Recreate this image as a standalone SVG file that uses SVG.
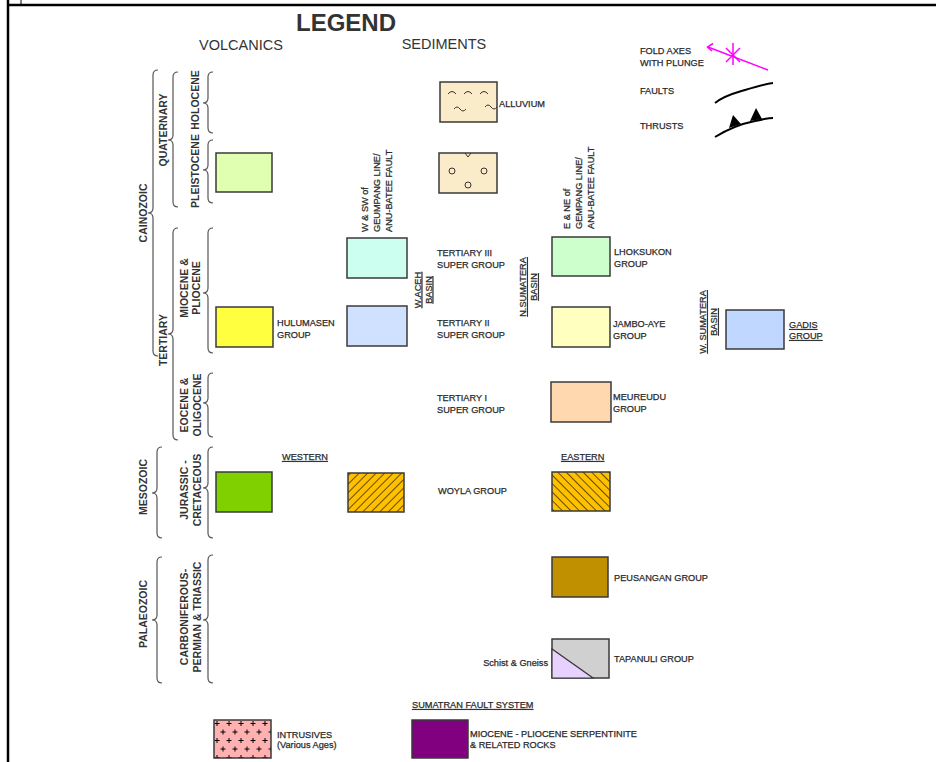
<svg xmlns="http://www.w3.org/2000/svg" width="936" height="762" viewBox="0 0 936 762">
<style>
.bx{stroke:#3a3a3a;stroke-width:1.5}
.lb{font-family:"Liberation Sans",Arial,sans-serif;font-size:9.2px;fill:#2a2a2a;stroke:#2a2a2a;stroke-width:0.25}
.u{text-decoration:underline}
.geo{font-family:"Liberation Sans",Arial,sans-serif;font-size:10.5px;font-weight:bold;fill:#333;text-anchor:middle}
.hd{font-family:"Liberation Sans",Arial,sans-serif;fill:#333}
.br{fill:none;stroke:#555;stroke-width:1.2}
.sym{fill:none;stroke:#000;stroke-width:2}
</style>
<defs>
<pattern id="hatchW" patternUnits="userSpaceOnUse" width="6" height="6" patternTransform="rotate(45)">
<rect width="6" height="6" fill="#ffc000"/><line x1="0" y1="0" x2="0" y2="6" stroke="#000" stroke-width="1.2"/>
</pattern>
<pattern id="hatchE" patternUnits="userSpaceOnUse" width="6" height="6" patternTransform="rotate(-45)">
<rect width="6" height="6" fill="#ffc000"/><line x1="0" y1="0" x2="0" y2="6" stroke="#000" stroke-width="1.2"/>
</pattern>
<pattern id="plus" patternUnits="userSpaceOnUse" x="214" y="720" width="12" height="17">
<rect width="12" height="17" fill="#ffb0b0"/>
<path d="M3,1 v5 M0.5,3.5 h5 M9,9.5 v5 M6.5,12 h5" stroke="#000" stroke-width="1"/>
</pattern>
</defs>

<g id="frame" stroke="#000">
<line x1="8" y1="0" x2="8" y2="762" stroke-width="2.5"/>
<line x1="7" y1="5" x2="936" y2="5" stroke-width="2.5"/>
<line x1="21" y1="0" x2="21" y2="5" stroke-width="1"/>
</g>

<g id="headings">
<text class="hd" x="346" y="31" font-size="24" font-weight="bold" text-anchor="middle">LEGEND</text>
<text class="hd" x="241" y="50" font-size="14.5" text-anchor="middle">VOLCANICS</text>
<text class="hd" x="444" y="49" font-size="14.5" text-anchor="middle">SEDIMENTS</text>
</g>

<g id="brackets" class="br">
<path d="M158,70 Q153,70 153,75 L153,208 Q153,213 148,213 Q153,213 153,218 L153,351 Q153,356 158,356"/>
<path d="M178,72 Q173,72 173,77 L173,135 Q173,140 168,140 Q173,140 173,145 L173,202 Q173,207 178,207"/>
<path d="M178,228 Q173,228 173,233 L173,329 Q173,334 168,334 Q173,334 173,339 L173,435 Q173,440 178,440"/>
<path d="M213,72 Q208,72 208,77 L208,98 Q208,103 203,103 Q208,103 208,108 L208,128 Q208,133 213,133"/>
<path d="M213,140 Q208,140 208,145 L208,165 Q208,170 203,170 Q208,170 208,175 L208,198 Q208,203 213,203"/>
<path d="M213,228 Q208,228 208,233 L208,288 Q208,293 203,293 Q208,293 208,298 L208,348 Q208,353 213,353"/>
<path d="M213,373 Q208,373 208,378 L208,398 Q208,403 203,403 Q208,403 208,408 L208,432 Q208,437 213,437"/>
<path d="M213,447 Q208,447 208,452 L208,483 Q208,488 203,488 Q208,488 208,493 L208,533 Q208,538 213,538"/>
<path d="M162,447 Q157,447 157,452 L157,488 Q157,493 152,493 Q157,493 157,498 L157,533 Q157,538 162,538"/>
<path d="M162,557 Q157,557 157,562 L157,615 Q157,620 152,620 Q157,620 157,625 L157,678 Q157,683 162,683"/>
<path d="M213,555 Q208,555 208,560 L208,615 Q208,620 203,620 Q208,620 208,625 L208,678 Q208,683 213,683"/>
</g>

<g id="time-labels">
<text class="geo" transform="translate(147,213) rotate(-90)">CAINOZOIC</text>
<text class="geo" transform="translate(167,130) rotate(-90)">QUATERNARY</text>
<text class="geo" transform="translate(167,340) rotate(-90)">TERTIARY</text>
<text class="geo" transform="translate(199,100) rotate(-90)">HOLOCENE</text>
<text class="geo" transform="translate(199,171) rotate(-90)">PLEISTOCENE</text>
<text class="geo" transform="translate(188,288) rotate(-90)"><tspan x="0" y="0">MIOCENE &amp;</tspan><tspan x="0" y="12">PLIOCENE</tspan></text>
<text class="geo" transform="translate(188,405) rotate(-90)"><tspan x="0" y="0">EOCENE &amp;</tspan><tspan x="0" y="13">OLIGOCENE</tspan></text>
<text class="geo" transform="translate(188,490) rotate(-90)"><tspan x="0" y="0">JURASSIC -</tspan><tspan x="0" y="13">CRETACEOUS</tspan></text>
<text class="geo" transform="translate(147,487) rotate(-90)">MESOZOIC</text>
<text class="geo" transform="translate(147,614) rotate(-90)">PALAEOZOIC</text>
<text class="geo" transform="translate(188,617) rotate(-90)"><tspan x="0" y="0">CARBONIFEROUS-</tspan><tspan x="0" y="13">PERMIAN &amp; TRIASSIC</tspan></text>
</g>

<g id="region-labels" class="lb">
<text transform="translate(367.5,232) rotate(-90)"><tspan x="0" y="0">W &amp; SW of</tspan><tspan x="0" y="12">GEUMPANG LINE/</tspan><tspan x="0" y="24">ANU-BATEE FAULT</tspan></text>
<text transform="translate(570,229) rotate(-90)"><tspan x="0" y="0">E &amp; NE of</tspan><tspan x="0" y="12">GEMPANG LINE/</tspan><tspan x="0" y="24">ANU-BATEE FAULT</tspan></text>
<text class="u" text-anchor="middle" transform="translate(420.5,290) rotate(-90)"><tspan x="0" y="0">W.ACEH</tspan><tspan x="0" y="11">BASIN</tspan></text>
<text class="u" text-anchor="middle" transform="translate(526,287) rotate(-90)"><tspan x="0" y="0">N.SUMATERA</tspan><tspan x="0" y="11">BASIN</tspan></text>
<text class="u" text-anchor="middle" transform="translate(706,322) rotate(-90)"><tspan x="0" y="0">W. SUMATERA</tspan><tspan x="0" y="11">BASIN</tspan></text>
<text class="u" x="282" y="460">WESTERN</text>
<text class="u" x="561" y="460">EASTERN</text>
<text class="u" x="412" y="708">SUMATRAN FAULT SYSTEM</text>
</g>

<g id="alluvium">
<rect class="bx" x="440" y="82" width="57" height="40" fill="#fbecc9"/>
<path d="M448,94 q4,-5 8,0 M464,94 q4,-5 8,0 M480,94 q4,-5 8,0 M454,109 q3,-4 6,0 t6,0 M485,107 q3,-4 6,0 t6,0" fill="none" stroke="#333" stroke-width="1"/>
<text class="lb" x="499" y="107">ALLUVIUM</text>
</g>
<g id="gravel">
<rect class="bx" x="439" y="153" width="58" height="40" fill="#fbecc9"/>
<path d="M465,153 l3,4 l3,-4" fill="none" stroke="#333" stroke-width="1"/>
<g fill="none" stroke="#333" stroke-width="1"><circle cx="452" cy="171" r="3"/><circle cx="484" cy="171" r="3"/><circle cx="468" cy="185" r="3"/></g>
</g>
<g id="pleistocene-volcanics"><rect class="bx" x="216" y="153" width="56" height="39" fill="#e0ffb0"/></g>
<g id="tertiary3-west"><rect class="bx" x="347" y="238" width="60" height="40" fill="#ccfff0"/>
<text class="lb"><tspan x="437" y="256">TERTIARY III</tspan><tspan x="437" y="268">SUPER GROUP</tspan></text></g>
<g id="tertiary2-west"><rect class="bx" x="347" y="306" width="60" height="40" fill="#d0e0ff"/>
<text class="lb"><tspan x="437" y="326">TERTIARY II</tspan><tspan x="437" y="338">SUPER GROUP</tspan></text></g>
<g id="tertiary1"><text class="lb"><tspan x="437" y="401">TERTIARY I</tspan><tspan x="437" y="413">SUPER GROUP</tspan></text></g>
<g id="hulumasen"><rect class="bx" x="216" y="307" width="57" height="40" fill="#ffff40"/>
<text class="lb"><tspan x="277" y="326">HULUMASEN</tspan><tspan x="277" y="338">GROUP</tspan></text></g>
<g id="lhoksukon"><rect class="bx" x="552" y="237" width="58" height="39" fill="#ccffcc"/>
<text class="lb"><tspan x="614" y="255">LHOKSUKON</tspan><tspan x="614" y="267">GROUP</tspan></text></g>
<g id="jambo-aye"><rect class="bx" x="552" y="307" width="58" height="40" fill="#ffffc0"/>
<text class="lb"><tspan x="613" y="327">JAMBO-AYE</tspan><tspan x="613" y="339">GROUP</tspan></text></g>
<g id="gadis"><rect class="bx" x="726" y="310" width="58" height="39" fill="#c0d8ff"/>
<text class="lb u"><tspan x="789" y="328">GADIS</tspan><tspan x="789" y="339">GROUP</tspan></text></g>
<g id="meureudu"><rect class="bx" x="551" y="382" width="60" height="40" fill="#ffd8b0"/>
<text class="lb"><tspan x="613" y="400">MEUREUDU</tspan><tspan x="613" y="412">GROUP</tspan></text></g>
<g id="jurassic-volcanics"><rect class="bx" x="216" y="472" width="56" height="40" fill="#80d000"/></g>
<g id="woyla-west"><rect class="bx" x="348" y="473" width="56" height="39" fill="url(#hatchW)"/></g>
<g id="woyla"><text class="lb" x="438" y="494">WOYLA GROUP</text></g>
<g id="woyla-east"><rect class="bx" x="552" y="472" width="58" height="39" fill="url(#hatchE)"/></g>
<g id="peusangan"><rect class="bx" x="552" y="557" width="56" height="40" fill="#c09000"/>
<text class="lb" x="614" y="581">PEUSANGAN GROUP</text></g>
<g id="tapanuli"><rect class="bx" x="552" y="639" width="57" height="39" fill="#d0d0d0"/>
<path d="M552,649 L552,678 L593,678 Z" fill="#e8d0ff" stroke="#3a3a3a" stroke-width="1.2"/>
<text class="lb" x="614" y="662">TAPANULI GROUP</text>
<text class="lb" x="548" y="666" text-anchor="end" font-size="9">Schist &amp; Gneiss</text></g>
<g id="intrusives"><rect class="bx" x="214" y="720" width="57" height="38" fill="url(#plus)"/>
<text class="lb"><tspan x="277" y="738">INTRUSIVES</tspan><tspan x="277" y="748">(Various Ages)</tspan></text></g>
<g id="serpentinite"><rect class="bx" x="412" y="720" width="56" height="38" fill="#800080"/>
<text class="lb" font-size="8.7"><tspan x="470" y="737">MIOCENE - PLIOCENE SERPENTINITE</tspan><tspan x="470" y="748">&amp; RELATED ROCKS</tspan></text></g>

<g id="fold-axes">
<text class="lb"><tspan x="640" y="54">FOLD AXES</tspan><tspan x="640" y="66">WITH PLUNGE</tspan></text>
<g fill="none" stroke="#ff00ff" stroke-width="1.5">
<line x1="708" y1="47" x2="768" y2="70"/>
<polyline points="713,43.5 707.5,47 712,51"/>
<line x1="733" y1="43" x2="733" y2="65"/>
<line x1="726" y1="48" x2="740" y2="62"/>
<line x1="740" y1="48" x2="726" y2="62"/>
</g></g>
<g id="faults">
<text class="lb" x="640" y="94">FAULTS</text>
<path class="sym" d="M715,103 C725,95 735,93 745,90 S765,84 773,83"/>
</g>
<g id="thrusts">
<text class="lb" x="640" y="129">THRUSTS</text>
<path class="sym" d="M715,137 C728,129 740,124 755,121 S768,118 773,118"/>
<polygon points="729,128 733,115 741,124" fill="#000"/>
<polygon points="750,121 756,108 762,119" fill="#000"/>
</g>
</svg>
